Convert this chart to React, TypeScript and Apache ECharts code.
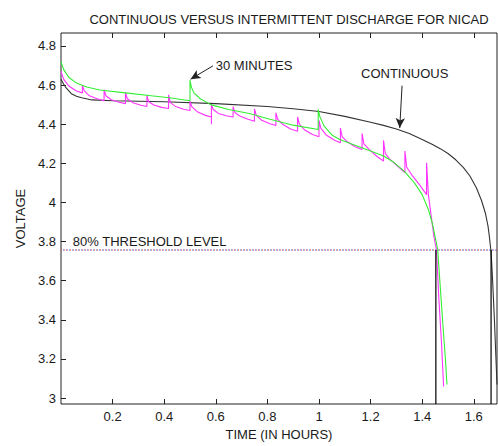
import React, { useEffect, useRef } from "react";
import * as echarts from "echarts";

// ---- data (time in hours, voltage in volts) ----
const CONTINUOUS: [number, number][] = [
  [0, 4.63], [0.01, 4.605], [0.02, 4.585], [0.04, 4.556], [0.06, 4.543], [0.08, 4.535], [0.12, 4.524],
  [0.2, 4.52], [0.4, 4.515], [0.6, 4.505], [0.8, 4.49], [0.9, 4.479], [1.0, 4.465], [1.1, 4.44],
  [1.2, 4.41], [1.25, 4.394], [1.3, 4.375], [1.35, 4.352], [1.4, 4.322], [1.44, 4.296], [1.47, 4.275],
  [1.5, 4.25], [1.53, 4.218], [1.56, 4.178], [1.585, 4.135], [1.61, 4.075], [1.63, 4.01],
  [1.645, 3.945], [1.655, 3.88], [1.661, 3.82], [1.665, 3.77], [1.667, 3.75],
  [1.673, 3.6], [1.68, 3.4], [1.686, 3.2], [1.69, 3.07],
];

const INTERMITTENT_30MIN: [number, number][] = [
  [0, 4.72], [0.01, 4.68], [0.03, 4.64], [0.06, 4.61], [0.1, 4.59], [0.15, 4.575],
  [0.25, 4.56], [0.35, 4.545], [0.42, 4.535], [0.5, 4.52],
  [0.5, 4.625], [0.505, 4.59], [0.515, 4.56], [0.54, 4.53], [0.58, 4.5], [0.65, 4.475],
  [0.73, 4.455], [0.81, 4.425], [0.9, 4.395], [0.997, 4.373],
  [0.997, 4.475], [1.003, 4.44], [1.02, 4.39], [1.05, 4.345], [1.08, 4.322], [1.2, 4.263],
  [1.25, 4.237], [1.29, 4.205], [1.33, 4.16], [1.37, 4.1], [1.4, 4.04], [1.425, 3.96],
  [1.44, 3.89], [1.46, 3.76], [1.47, 3.57], [1.48, 3.38], [1.49, 3.2], [1.496, 3.07],
];

const INTERMITTENT_5MIN: [number, number][] = [
  [0, 4.67], [0.01, 4.63], [0.03, 4.595], [0.06, 4.57], [0.083, 4.56],
  [0.083, 4.6], [0.09, 4.57], [0.11, 4.545], [0.14, 4.53], [0.167, 4.52],
  [0.167, 4.576], [0.174, 4.545], [0.195, 4.525], [0.225, 4.512], [0.25, 4.505],
  [0.25, 4.563], [0.257, 4.53], [0.278, 4.51], [0.31, 4.497], [0.333, 4.49],
  [0.333, 4.546], [0.34, 4.515], [0.36, 4.498], [0.39, 4.486], [0.417, 4.48],
  [0.417, 4.55], [0.424, 4.51], [0.445, 4.49], [0.475, 4.476], [0.5, 4.47],
  [0.5, 4.517], [0.507, 4.49], [0.53, 4.462], [0.56, 4.445], [0.583, 4.437], [0.583, 4.4],
  [0.583, 4.5], [0.59, 4.475], [0.61, 4.455], [0.64, 4.443], [0.667, 4.437],
  [0.667, 4.49], [0.674, 4.46], [0.695, 4.44], [0.725, 4.425], [0.75, 4.415],
  [0.75, 4.478], [0.757, 4.445], [0.778, 4.42], [0.81, 4.402], [0.833, 4.393],
  [0.833, 4.458], [0.84, 4.425], [0.86, 4.398], [0.89, 4.375], [0.917, 4.364],
  [0.917, 4.437], [0.924, 4.4], [0.945, 4.37], [0.975, 4.347], [1.0, 4.336],
  [1.0, 4.42], [1.007, 4.38], [1.028, 4.345], [1.06, 4.318], [1.083, 4.305],
  [1.083, 4.38], [1.09, 4.335], [1.11, 4.31], [1.14, 4.285], [1.167, 4.271],
  [1.167, 4.353], [1.174, 4.3], [1.195, 4.27], [1.225, 4.235], [1.25, 4.212],
  [1.25, 4.317], [1.257, 4.25], [1.275, 4.22], [1.31, 4.18], [1.333, 4.153],
  [1.333, 4.263], [1.34, 4.18], [1.36, 4.14], [1.39, 4.09], [1.417, 4.04],
  [1.417, 4.203], [1.424, 4.04], [1.435, 3.93], [1.445, 3.83], [1.455, 3.76],
  [1.465, 3.5], [1.475, 3.28], [1.483, 3.06],
];

const THRESHOLD = 3.757;
const CUTOFF_TIMES = [1.453, 1.667];
const X_MIN = 0;
const X_MAX = 1.69;
const Y_MIN = 2.97;
const Y_MAX = 4.866;
const X_TICKS = [0.2, 0.4, 0.6, 0.8, 1, 1.2, 1.4, 1.6];
const Y_TICKS = [3, 3.2, 3.4, 3.6, 3.8, 4, 4.2, 4.4, 4.6, 4.8];

const TITLE = "CONTINUOUS VERSUS INTERMITTENT DISCHARGE FOR NICAD";
const X_NAME = "TIME (IN HOURS)";
const Y_NAME = "VOLTAGE";
const THRESHOLD_LABEL = "80% THRESHOLD LEVEL";
const LABEL_30MIN = "30 MINUTES";
const LABEL_CONT = "CONTINUOUS";

// annotation anchors in data coordinates
const ARROW_30MIN: [[number, number], [number, number]] = [[0.589, 4.698], [0.502, 4.63]];
const ARROW_CONT: [[number, number], [number, number]] = [[1.322, 4.597], [1.313, 4.38]];
const TEXT_30MIN_AT: [number, number] = [0.6, 4.698];
const TEXT_CONT_AT: [number, number] = [1.163, 4.657];
const TEXT_THR_AT: [number, number] = [0.046, 3.8];

const FONT = "'Liberation Sans', Arial, Helvetica, sans-serif";
const INK = "#1a1a1a";

export default function App() {
  const ref = useRef<HTMLDivElement>(null);
  useEffect(() => {
    if (!ref.current) return;
    const chart = echarts.init(ref.current, undefined, { renderer: "svg" });
    const lineBase = { type: "line" as const, showSymbol: false, symbol: "none", silent: true, animation: false };
    const thrData = [[X_MIN, THRESHOLD], [X_MAX, THRESHOLD]];
    const option: any = {
      animation: false,
      backgroundColor: "#fff",
      textStyle: { fontFamily: FONT },
      title: {
        text: TITLE,
        left: 284,
        textAlign: "center",
        top: 8,
        textStyle: { fontFamily: FONT, fontSize: 13, fontWeight: "normal", color: INK },
      },
      grid: { left: 61, right: 1, top: 33, bottom: 40, show: true, borderColor: "#222", borderWidth: 1, backgroundColor: "transparent" },
      xAxis: [
        {
          type: "value", min: X_MIN, max: X_MAX, interval: 0.2,
          name: X_NAME, nameLocation: "middle", nameGap: 24,
          nameTextStyle: { fontFamily: FONT, fontSize: 13, color: INK },
          axisLine: { show: false },
          splitLine: { show: false },
          axisTick: { show: true, inside: true, length: 5, customValues: X_TICKS, lineStyle: { color: "#222" } },
          axisLabel: { customValues: X_TICKS, fontFamily: FONT, fontSize: 13, color: INK, margin: 6, formatter: (v: number) => String(+v.toFixed(2)) },
        },
        {
          type: "value", min: X_MIN, max: X_MAX, position: "top",
          axisLine: { show: false }, splitLine: { show: false },
          axisTick: { show: true, inside: true, length: 5, customValues: X_TICKS, lineStyle: { color: "#222" } },
          axisLabel: { show: false },
        },
      ],
      yAxis: [
        {
          type: "value", min: Y_MIN, max: Y_MAX,
          name: Y_NAME, nameLocation: "middle", nameGap: 33, nameRotate: 90,
          nameTextStyle: { fontFamily: FONT, fontSize: 13, color: INK },
          axisLine: { show: false }, splitLine: { show: false },
          axisTick: { show: true, inside: true, length: 5, customValues: Y_TICKS, lineStyle: { color: "#222" } },
          axisLabel: { customValues: Y_TICKS, fontFamily: FONT, fontSize: 13, color: INK, margin: 5, formatter: (v: number) => String(+v.toFixed(2)) },
        },
      ],
      series: [
        { ...lineBase, name: "threshold-r", data: thrData, z: 1, lineStyle: { color: "#e04040", width: 1, type: [1, 2], dashOffset: 0 } },
        { ...lineBase, name: "threshold-b", data: thrData, z: 1, lineStyle: { color: "#4060e0", width: 1, type: [1, 2], dashOffset: 1 } },
        { ...lineBase, name: "Continuous", data: CONTINUOUS, z: 2, lineStyle: { color: "#333", width: 1.1 } },
        { ...lineBase, name: "5 min", data: INTERMITTENT_5MIN, z: 3, lineStyle: { color: "#ff33ff", width: 1.1 } },
        { ...lineBase, name: "30 min", data: INTERMITTENT_30MIN, z: 4, lineStyle: { color: "#33ee33", width: 1.1 } },
        ...CUTOFF_TIMES.map((t, i) => ({
          ...lineBase, name: "cutoff" + i, data: [[t, THRESHOLD], [t, Y_MIN]], z: 5,
          lineStyle: { color: "#000", width: 1.2 },
        })),
        {
          ...lineBase, name: "arrows", data: [], z: 6,
          markLine: {
            silent: true, animation: false, symbol: ["none", "arrow"], symbolSize: [7, 10],
            label: { show: false },
            lineStyle: { color: "#222", width: 1, type: "solid" },
            data: [
              [{ coord: ARROW_30MIN[0] }, { coord: ARROW_30MIN[1] }],
              [{ coord: ARROW_CONT[0] }, { coord: ARROW_CONT[1] }],
            ],
          },
        },
      ],
    };
    chart.setOption(option);
    const p30 = chart.convertToPixel({ gridIndex: 0 }, TEXT_30MIN_AT) as number[];
    const pc = chart.convertToPixel({ gridIndex: 0 }, TEXT_CONT_AT) as number[];
    const pt = chart.convertToPixel({ gridIndex: 0 }, TEXT_THR_AT) as number[];
    const txt = (s: string, p: number[]) => ({
      type: "text", x: p[0], y: p[1], silent: true,
      style: { text: s, fontFamily: FONT, fontSize: 13, fill: INK, verticalAlign: "middle", align: "left" },
    });
    chart.setOption({ graphic: [txt(LABEL_30MIN, p30), txt(LABEL_CONT, pc), txt(THRESHOLD_LABEL, pt)] });
    return () => chart.dispose();
  }, []);
  return <div ref={ref} style={{ position: "absolute", left: 0, top: 0, width: 498, height: 446 }} />;
}
